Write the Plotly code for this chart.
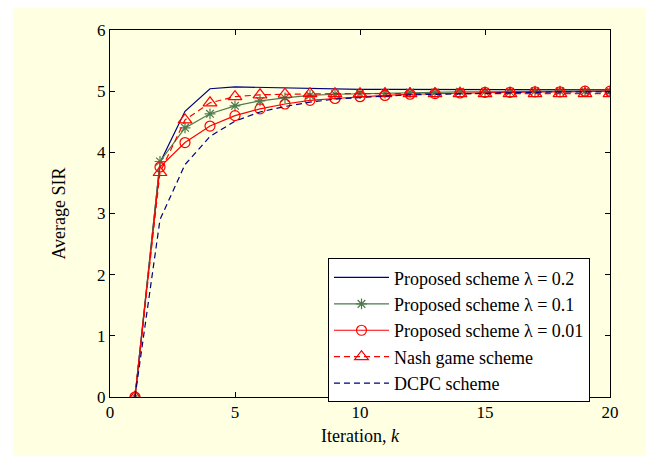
import plotly.graph_objects as go

# Iteration index
iterations = list(range(1, 21))

# Average SIR per iteration for each power-control scheme
sir_lambda_02 = [0, 3.83, 4.67, 5.04, 5.07, 5.06, 5.05, 5.04, 5.04, 5.03,
                 5.03, 5.03, 5.03, 5.02, 5.02, 5.02, 5.02, 5.02, 5.02, 5.02]
sir_lambda_01 = [0, 3.85, 4.40, 4.63, 4.76, 4.84, 4.89, 4.93, 4.95, 4.96,
                 4.97, 4.98, 4.98, 4.99, 4.99, 4.99, 5.00, 5.00, 5.00, 5.00]
sir_lambda_001 = [0, 3.76, 4.16, 4.43, 4.60, 4.71, 4.79, 4.85, 4.88, 4.91,
                  4.93, 4.95, 4.96, 4.97, 4.98, 4.98, 4.99, 4.99, 5.00, 5.00]
sir_nash = [0, 3.67, 4.53, 4.81, 4.91, 4.94, 4.95, 4.96, 4.96, 4.96,
            4.96, 4.96, 4.96, 4.96, 4.96, 4.96, 4.96, 4.96, 4.96, 4.96]
sir_dcpc = [0, 2.90, 3.80, 4.26, 4.51, 4.66, 4.75, 4.82, 4.87, 4.90,
            4.92, 4.94, 4.95, 4.96, 4.97, 4.98, 4.98, 4.99, 4.99, 4.99]

x_ticks = [0, 5, 10, 15, 20]
y_ticks = [0, 1, 2, 3, 4, 5, 6]

NAVY = "#00007F"
GREEN = "#4E7A4E"
RED = "#FF0000"
FONT = "Liberation Serif"
TICK_SIZE = 17
TITLE_SIZE = 18
LEGEND_SIZE = 18

fig = go.Figure()

fig.add_trace(go.Scatter(
    x=iterations, y=sir_lambda_02, mode="lines",
    name="Proposed scheme \u03bb = 0.2",
    line=dict(color=NAVY, width=1.2),
))
fig.add_trace(go.Scatter(
    x=iterations, y=sir_lambda_01, mode="lines+markers",
    name="Proposed scheme \u03bb = 0.1",
    line=dict(color=GREEN, width=1.2),
    marker=dict(symbol="asterisk-open", size=9,
                line=dict(color=GREEN, width=1.2), color=GREEN),
))
fig.add_trace(go.Scatter(
    x=iterations, y=sir_lambda_001, mode="lines+markers",
    name="Proposed scheme \u03bb = 0.01",
    line=dict(color=RED, width=1.2),
    marker=dict(symbol="circle-open", size=10,
                line=dict(color=RED, width=1.2), color=RED),
))
fig.add_trace(go.Scatter(
    x=iterations, y=sir_nash, mode="lines+markers",
    name="Nash game scheme",
    line=dict(color=RED, width=1.2, dash="6px,4px"),
    marker=dict(symbol="triangle-up-open", size=12,
                line=dict(color=RED, width=1.2), color=RED),
))
fig.add_trace(go.Scatter(
    x=iterations, y=sir_dcpc, mode="lines",
    name="DCPC scheme",
    line=dict(color=NAVY, width=1.2, dash="6px,4px"),
))

axis_common = dict(
    showline=True, linecolor="black", linewidth=1, mirror="ticks",
    ticks="inside", ticklen=5, tickcolor="black", tickwidth=1,
    showgrid=False, zeroline=False,
    tickfont=dict(family=FONT, size=TICK_SIZE, color="black"),
)

fig.update_xaxes(
    range=[0, 20], tickvals=x_ticks, **axis_common,
    title=dict(text="Iteration, <i>k</i>",
               font=dict(family=FONT, size=TITLE_SIZE, color="black"),
               standoff=7),
)
fig.update_yaxes(
    range=[0, 6], tickvals=y_ticks, **axis_common,
    title=dict(text="Average SIR",
               font=dict(family=FONT, size=TITLE_SIZE, color="black"),
               standoff=26),
)

# Light yellow figure panel with a thin white rim around it
fig.add_shape(type="rect", xref="paper", yref="paper", layer="below",
              x0=-0.194, x1=1.072, y0=-0.2, y1=1.06,
              fillcolor="#FFFFE1", line=dict(width=0))

fig.update_layout(
    width=655, height=456,
    margin=dict(l=110, r=45, t=30, b=59),
    paper_bgcolor="white", plot_bgcolor="white",
    font=dict(family=FONT, size=TICK_SIZE, color="black"),
    showlegend=True,
    legend=dict(
        x=0.436, y=0.378, xanchor="left", yanchor="top",
        bgcolor="white", bordercolor="black", borderwidth=1,
        font=dict(family=FONT, size=LEGEND_SIZE, color="black"),
        traceorder="normal", itemwidth=55,
    ),
)

fig.write_html("out.html")
